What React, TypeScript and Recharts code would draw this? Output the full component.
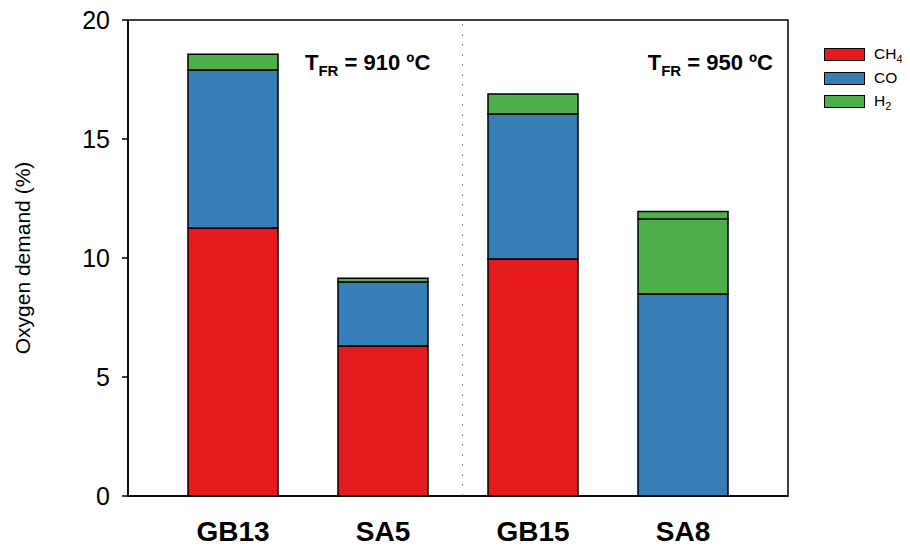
import {
    BarChart,
    Bar,
    XAxis,
    YAxis,
    Legend,
    ReferenceLine,
    ReferenceArea,
    ReferenceDot,
} from 'recharts';

const samples = ['GB13', 'SA5', 'GB15', 'SA8'];
const ch4 = [11.26, 6.3, 9.96, 0];
const co = [6.64, 2.69, 6.09, 8.49];
const h2 = [0.66, 0.16, 0.84, 3.15];
const h2Top = [0, 0, 0, 0.31];
const yTicks = [0, 5, 10, 15, 20];

const data = samples.map((name, i) => ({
    name,
    pos: i,
    ch4: ch4[i],
    co: co[i],
    h2: h2[i],
    h2Top: h2Top[i],
}));

const RED = '#E41A1C';
const BLUE = '#377EB8';
const GREEN = '#4DAF4A';
const FONT = '"Liberation Sans", Arial, sans-serif';

const legendItems = [
    { color: RED, base: 'CH', sub: '4' },
    { color: BLUE, base: 'CO', sub: '' },
    { color: GREEN, base: 'H', sub: '2' },
];

function LegendBox() {
    return (
        <div style={{ fontFamily: FONT, fontSize: 15.5, color: '#000', width: 78 }}>
            {legendItems.map((it) => (
                <div key={it.base} style={{ display: 'flex', alignItems: 'center', height: 23.5 }}>
                    <div
                        style={{
                            width: 39,
                            height: 11,
                            background: it.color,
                            border: '1.5px solid #000',
                            marginRight: 9,
                            flexShrink: 0,
                        }}
                    />
                    <span style={{ whiteSpace: 'nowrap' }}>
                        {it.base}
                        {it.sub && <sub style={{ fontSize: 11 }}>{it.sub}</sub>}
                    </span>
                </div>
            ))}
        </div>
    );
}

function TempLabel(props: any, temp: string, anchor: 'start' | 'end') {
    const { cx, cy } = props;
    return (
        <text x={cx} y={cy} textAnchor={anchor} fontFamily={FONT} fontWeight="bold" fontSize={22} fill="#000">
            T<tspan fontSize={15} dy={6}>FR</tspan>
            <tspan dy={-6}>{` = ${temp} ºC`}</tspan>
        </text>
    );
}

export default function App() {
    return (
        <div style={{ width: 910, height: 550, margin: -8, position: 'relative' }}>
            <BarChart
                width={910}
                height={550}
                data={data}
                margin={{ top: 20, right: 44, bottom: 0, left: 0 }}
                barSize={90}
            >
                <XAxis
                    dataKey="pos"
                    type="number"
                    domain={[-0.7, 3.7]}
                    ticks={[0, 1, 2, 3]}
                    tickFormatter={(v: number) => samples[v] ?? ''}
                    allowDataOverflow
                    axisLine={{ stroke: '#000', strokeWidth: 1.5 }}
                    tickLine={false}
                    tickMargin={19}
                    height={54}
                    tick={{ fill: '#000', fontSize: 28, fontWeight: 'bold', fontFamily: FONT }}
                    interval={0}
                />
                <YAxis
                    domain={[0, 20]}
                    ticks={yTicks}
                    width={128}
                    tickSize={6}
                    tickMargin={12}
                    axisLine={{ stroke: '#000', strokeWidth: 1.5 }}
                    tickLine={{ stroke: '#000', strokeWidth: 1.5 }}
                    tick={{ fill: '#000', fontSize: 25, fontFamily: FONT }}
                    label={{
                        value: 'Oxygen demand (%)',
                        angle: -90,
                        position: 'insideLeft',
                        offset: 23,
                        style: { textAnchor: 'middle', fill: '#000', fontSize: 21, fontFamily: FONT },
                    }}
                />
                <ReferenceArea
                    x1={-0.7}
                    x2={3.7}
                    y1={0}
                    y2={20}
                    fill="none"
                    stroke="#000"
                    strokeWidth={1.5}
                    ifOverflow="visible"
                />
                <ReferenceLine x={1.53} stroke="#8a9a92" strokeWidth={1} strokeDasharray="2 8" />
                <Bar dataKey="ch4" name="CH4" stackId="a" fill={RED} stroke="#000" strokeWidth={1.5} isAnimationActive={false} />
                <Bar dataKey="co" name="CO" stackId="a" fill={BLUE} stroke="#000" strokeWidth={1.5} isAnimationActive={false} />
                <Bar dataKey="h2" name="H2" stackId="a" fill={GREEN} stroke="#000" strokeWidth={1.5} isAnimationActive={false} />
                <Bar dataKey="h2Top" name="H2 " stackId="a" fill={GREEN} stroke="#000" strokeWidth={1.5} legendType="none" isAnimationActive={false} />
                <ReferenceDot
                    x={0.48}
                    y={17.9}
                    r={0}
                    ifOverflow="visible"
                    shape={(p: any) => TempLabel(p, '910', 'start')}
                />
                <ReferenceDot
                    x={3.6}
                    y={17.9}
                    r={0}
                    ifOverflow="visible"
                    shape={(p: any) => TempLabel(p, '950', 'end')}
                />
                <Legend
                    layout="horizontal"
                    verticalAlign="middle"
                    align="right"
                    wrapperStyle={{ position: 'absolute', top: 43, left: 824, width: 78 }}
                    content={() => <LegendBox />}
                />
            </BarChart>
        </div>
    );
}
